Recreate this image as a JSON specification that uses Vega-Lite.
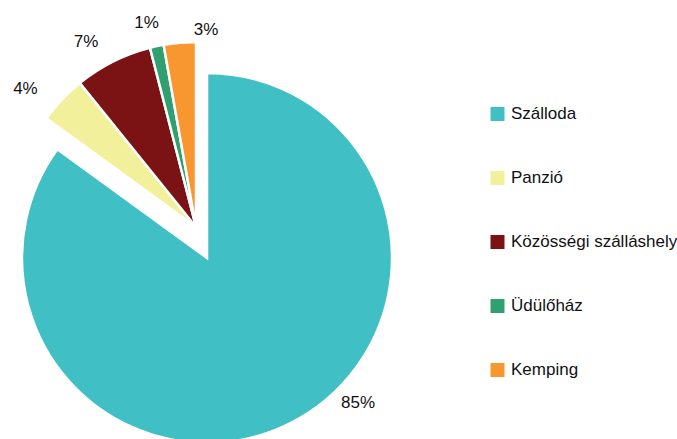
{
  "$schema": "https://vega.github.io/schema/vega-lite/v6.json",
  "width": 392,
  "height": 454,
  "autosize": {"type": "pad"},
  "padding": 0,
  "background": "white",
  "config": {"view": {"stroke": null}, "font": "Liberation Sans"},
  "data": {"values": [
    {"type": "Szálloda", "pct": 85.0, "label": "85%", "order": 1},
    {"type": "Panzió", "pct": 4.2, "label": "4%", "order": 2},
    {"type": "Közösségi szálláshely", "pct": 6.8, "label": "7%", "order": 3},
    {"type": "Üdülőház", "pct": 1.2, "label": "1%", "order": 4},
    {"type": "Kemping", "pct": 2.8, "label": "3%", "order": 5}
  ]},
  "encoding": {
    "theta": {"field": "pct", "type": "quantitative", "stack": true},
    "order": {"field": "order", "type": "quantitative"}
  },
  "layer": [
    {
      "mark": {"type": "arc", "outerRadius": 185, "stroke": "white", "strokeWidth": 2.5, "xOffset": 11, "yOffset": 31},
      "encoding": {
        "color": {
          "field": "type", "type": "nominal",
          "scale": {
            "domain": ["Szálloda", "Panzió", "Közösségi szálláshely", "Üdülőház", "Kemping"],
            "range": ["#40C0C4", "#F2F09B", "#7B1315", "#30A070", "#F89630"]
          },
          "legend": {
            "title": null, "orient": "none", "legendX": 489, "legendY": 105.5,
            "symbolType": "square", "symbolSize": 196, "symbolStrokeWidth": 0, "symbolOpacity": 1,
            "labelFontSize": 17, "labelFont": "Liberation Sans", "labelColor": "#111111",
            "labelOffset": 5, "rowPadding": 46, "padding": 0, "labelLimit": 300
          }
        },
        "opacity": {"condition": {"test": "datum.type === 'Szálloda'", "value": 1}, "value": 0}
      }
    },
    {
      "mark": {"type": "arc", "outerRadius": 185, "stroke": "white", "strokeWidth": 2.5},
      "encoding": {
        "color": {"field": "type", "type": "nominal"},
        "opacity": {"condition": {"test": "datum.type === 'Szálloda'", "value": 0}, "value": 1}
      }
    },
    {
      "mark": {"type": "text", "radius": 205, "dx": 69, "dy": -7, "fontSize": 17, "font": "Liberation Sans", "fill": "#111111"},
      "encoding": {"text": {"condition": {"test": "datum.type === 'Szálloda'", "field": "label", "type": "nominal"}, "value": ""}}
    },
    {
      "mark": {"type": "text", "radius": 205, "dx": -22, "dy": 3.5, "fontSize": 17, "font": "Liberation Sans", "fill": "#111111"},
      "encoding": {"text": {"condition": {"test": "datum.type === 'Panzió'", "field": "label", "type": "nominal"}, "value": ""}}
    },
    {
      "mark": {"type": "text", "radius": 205, "dx": -18, "dy": -2, "fontSize": 17, "font": "Liberation Sans", "fill": "#111111"},
      "encoding": {"text": {"condition": {"test": "datum.type === 'Közösségi szálláshely'", "field": "label", "type": "nominal"}, "value": ""}}
    },
    {
      "mark": {"type": "text", "radius": 205, "dx": -6, "dy": -4, "fontSize": 17, "font": "Liberation Sans", "fill": "#111111"},
      "encoding": {"text": {"condition": {"test": "datum.type === 'Üdülőház'", "field": "label", "type": "nominal"}, "value": ""}}
    },
    {
      "mark": {"type": "text", "radius": 205, "dx": 28, "dy": 7, "fontSize": 17, "font": "Liberation Sans", "fill": "#111111"},
      "encoding": {"text": {"condition": {"test": "datum.type === 'Kemping'", "field": "label", "type": "nominal"}, "value": ""}}
    }
  ]
}
